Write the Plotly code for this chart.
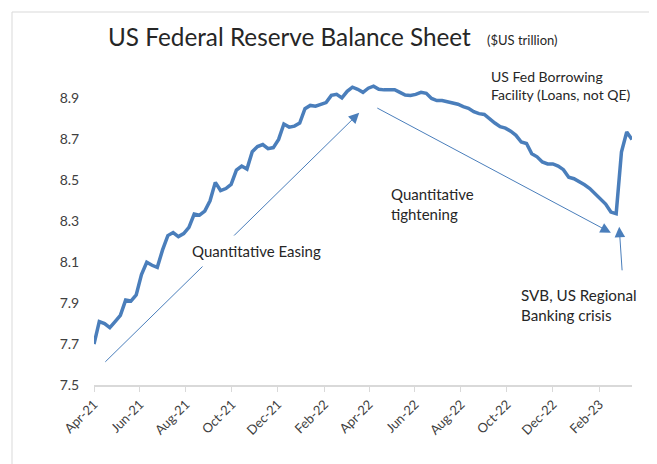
import pandas as pd
import plotly.graph_objects as go

# Weekly Fed balance sheet ($US trillion)
start_date = "2021-04-07"
n_weeks = 103
balance = [
    7.70, 7.81, 7.80, 7.78, 7.81, 7.84, 7.915, 7.91, 7.94, 8.04,
    8.10, 8.085, 8.075, 8.16, 8.23, 8.245, 8.225, 8.24, 8.27, 8.335,
    8.33, 8.35, 8.40, 8.49, 8.45, 8.46, 8.48, 8.55, 8.57, 8.555,
    8.64, 8.665, 8.675, 8.655, 8.66, 8.70, 8.775, 8.76, 8.765, 8.78,
    8.85, 8.866, 8.862, 8.872, 8.88, 8.915, 8.92, 8.903, 8.935, 8.955,
    8.945, 8.93, 8.95, 8.96, 8.945, 8.942, 8.942, 8.943, 8.93, 8.917,
    8.915, 8.92, 8.93, 8.925, 8.90, 8.89, 8.89, 8.885, 8.88, 8.872,
    8.86, 8.852, 8.835, 8.826, 8.822, 8.80, 8.78, 8.762, 8.755, 8.74,
    8.72, 8.687, 8.68, 8.63, 8.615, 8.59, 8.58, 8.58, 8.57, 8.552,
    8.515, 8.508, 8.495, 8.478, 8.46, 8.433, 8.41, 8.384, 8.345, 8.337,
    8.638, 8.736, 8.70,
]
dates = pd.date_range(start=start_date, periods=n_weeks, freq="7D")

title_text = "US Federal Reserve Balance Sheet"
subtitle_text = "($US trillion)"
qe_label = "Quantitative Easing"
qt_label = "Quantitative<br>tightening"
fed_label = "US Fed Borrowing<br>Facility (Loans, not QE)"
svb_label = "SVB, US Regional<br>Banking crisis"

# arrows: (tail date, tail value, tip date, tip value)
qe_arrow = ("2021-04-20", 7.606, "2022-03-25", 8.830)
qt_arrow = ("2022-04-16", 8.857, "2023-02-22", 8.244)
svb_arrow = ("2023-03-09", 8.053, "2023-03-05", 8.273)

BLUE = "#4A7EBB"
FONT = "Lato, Carlito, 'Open Sans', sans-serif"
TXT = "#262626"

# plot area in page pixels (page has an 8px body margin)
PX0, PX1, PY0, PY1 = 94, 632, 78, 385
PW, PH = PX1 - PX0, PY1 - PY0
OFF = 8


def px(x):
    return (x - PX0) / PW


def py(y):
    return (PY1 - y) / PH


fig = go.Figure()
fig.add_trace(go.Scatter(
    x=dates, y=balance, mode="lines",
    line=dict(color=BLUE, width=3.5),
    hoverinfo="skip", showlegend=False,
))

annotations = []
for tx, ty, hx, hy in (qe_arrow, qt_arrow, svb_arrow):
    annotations.append(dict(
        x=hx, y=hy, ax=tx, ay=ty, xref="x", yref="y", axref="x", ayref="y",
        text="", showarrow=True, arrowhead=2, arrowsize=2.1, arrowwidth=1,
        arrowcolor=BLUE, standoff=0, startstandoff=0,
    ))

annotations += [
    dict(x=px(185), y=py(251), xref="paper", yref="paper",
         xanchor="left", yanchor="middle", text=qe_label, showarrow=False,
         bgcolor="white", borderpad=6, font=dict(size=15, color=TXT, family=FONT)),
    dict(x=px(389), y=py(204), xref="paper", yref="paper",
         xanchor="left", yanchor="middle", align="left", text=qt_label, showarrow=False,
         font=dict(size=15, color=TXT, family=FONT)),
    dict(x=px(489), y=py(85), xref="paper", yref="paper",
         xanchor="left", yanchor="middle", align="left", text=fed_label, showarrow=False,
         font=dict(size=14, color=TXT, family=FONT)),
    dict(x=px(519), y=py(305), xref="paper", yref="paper",
         xanchor="left", yanchor="middle", align="left", text=svb_label, showarrow=False,
         font=dict(size=15.2, color=TXT, family=FONT)),
    dict(x=px(106), y=py(37), xref="paper", yref="paper",
         xanchor="left", yanchor="middle", text=title_text, showarrow=False,
         font=dict(size=24.3, color=TXT, family=FONT)),
    dict(x=px(485), y=py(40), xref="paper", yref="paper",
         xanchor="left", yanchor="middle", text=subtitle_text, showarrow=False,
         font=dict(size=13, color=TXT, family=FONT)),
]

fig.update_layout(
    width=657, height=464,
    margin=dict(l=PX0 - OFF, r=657 - (PX1 - OFF), t=PY0 - OFF, b=464 - (PY1 - OFF)),
    paper_bgcolor="white", plot_bgcolor="white",
    annotations=annotations,
    shapes=[dict(type="rect", xref="paper", yref="paper",
                 x0=px(12), x1=px(654), y0=py(480), y1=py(12),
                 line=dict(color="#D9D9D9", width=1), layer="below")],
    font=dict(family=FONT, color="#404040"),
)
fig.update_xaxes(
    type="date", range=[dates[0], dates[-1]],
    tick0=start_date, dtick="M2", tickformat="%b-%y", tickangle=-45,
    ticks="outside", ticklen=5, tickcolor="#D9D9D9",
    showline=True, linecolor="#D9D9D9", linewidth=1.5,
    showgrid=False, zeroline=False,
    tickfont=dict(size=13, color="#404040", family=FONT),
)
fig.update_yaxes(
    range=[7.5, 9.0], tick0=7.5, dtick=0.2, tickformat=".1f",
    showgrid=False, zeroline=False, showline=False,
    ticks="outside", ticklen=11, tickcolor="rgba(0,0,0,0)",
    tickfont=dict(size=14, color="#404040", family=FONT),
)

fig.write_html("out.html")
